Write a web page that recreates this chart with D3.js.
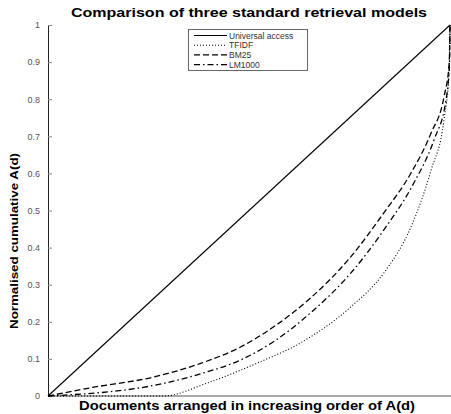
<!DOCTYPE html>
<html>
<head>
<meta charset="utf-8">
<script src="https://cdn.jsdelivr.net/npm/d3@7"></script>
<style>
  html, body { margin: 0; padding: 0; background: #fff; }
  svg { display: block; }
</style>
</head>
<body>
<svg id="chart" width="451" height="414"></svg>
<script>
// Fraction of documents (sorted by A(d)) vs normalised cumulative A(d)
const seriesNames = ["Universal access", "TFIDF", "BM25", "LM1000"];

const universalX = [0, 1];
const universalY = [0, 1];

const tfidfX = [0, 0.287, 0.396, 0.521, 0.628, 0.753, 0.835, 0.903, 0.953, 0.985, 0.998, 1.0];
const tfidfY = [0, 0.0, 0.035, 0.089, 0.143, 0.240, 0.331, 0.456, 0.609, 0.744, 0.879, 1.0];

const bm25X = [0, 0.105, 0.262, 0.38, 0.479, 0.566, 0.653, 0.753, 0.835, 0.903, 0.953, 0.985, 0.998, 1.0];
const bm25Y = [0, 0.022, 0.051, 0.088, 0.132, 0.19, 0.264, 0.375, 0.493, 0.601, 0.709, 0.806, 0.897, 1.0];

const lm1000X = [0, 0.279, 0.38, 0.479, 0.566, 0.653, 0.753, 0.835, 0.910, 0.960, 0.990, 0.999, 1.0];
const lm1000Y = [0, 0.032, 0.06, 0.097, 0.15, 0.224, 0.331, 0.447, 0.574, 0.690, 0.798, 0.9, 1.0];

const yTickValues = [0, 0.1, 0.2, 0.3, 0.4, 0.5, 0.6, 0.7, 0.8, 0.9, 1];
const yTickLabels = ["0", "0.1", "0.2", "0.3", "0.4", "0.5", "0.6", "0.7", "0.8", "0.9", "1"];

const titleText = "Comparison of three standard retrieval models";
const xLabelText = "Documents arranged in increasing order of A(d)";
const yLabelText = "Normalised cumulative A(d)";

const svg = d3.select("#chart");
const plotLeft = 48, plotRight = 450, plotTop = 25, plotBottom = 396;

const x = d3.scaleLinear().domain([0, 1]).range([plotLeft, plotRight]);
const y = d3.scaleLinear().domain([0, 1]).range([plotBottom, plotTop]);

// line styles per series
const styles = {
  "Universal access": { dash: null, width: 1.1 },
  "TFIDF": { dash: "1,2", width: 1.1 },
  "BM25": { dash: "6,3", width: 1.3 },
  "LM1000": { dash: "6,3,1.5,3", width: 1.3 }
};

const series = [
  { name: "Universal access", xs: universalX, ys: universalY },
  { name: "TFIDF", xs: tfidfX, ys: tfidfY },
  { name: "BM25", xs: bm25X, ys: bm25Y },
  { name: "LM1000", xs: lm1000X, ys: lm1000Y }
];

const line = d3.line()
  .x(d => x(d[0]))
  .y(d => y(d[1]))
  .curve(d3.curveMonotoneX);

// axes
const yAxis = d3.axisLeft(y)
  .tickValues(yTickValues)
  .tickFormat((d, i) => yTickLabels[i])
  .tickSizeInner(-4)
  .tickSizeOuter(0)
  .tickPadding(8);

const gy = svg.append("g")
  .attr("transform", `translate(${plotLeft},0)`)
  .call(yAxis);
gy.select(".domain").attr("stroke", "#222").attr("stroke-width", 1);
gy.selectAll(".tick line").attr("stroke", "#888");
gy.selectAll(".tick text")
  .attr("fill", "#555")
  .style("font-family", "Liberation Sans, Arial, sans-serif")
  .style("font-size", "9px");

const xAxis = d3.axisBottom(x).tickValues([]).tickSizeOuter(0);
const gx = svg.append("g")
  .attr("transform", `translate(0,${plotBottom})`)
  .call(xAxis);
gx.select(".domain").attr("stroke", "#555").attr("stroke-width", 1.2)
  .attr("d", `M${plotLeft},0H451`);

// curves
series.forEach(s => {
  const pts = s.xs.map((v, i) => [v, s.ys[i]]);
  svg.append("path")
    .datum(pts)
    .attr("d", line)
    .attr("fill", "none")
    .attr("stroke", "#000")
    .attr("stroke-width", styles[s.name].width)
    .attr("stroke-dasharray", styles[s.name].dash);
});

// title and axis labels
svg.append("text")
  .attr("x", 249).attr("y", 17)
  .attr("text-anchor", "middle")
  .style("font-family", "Liberation Sans, Arial, sans-serif")
  .style("font-weight", "bold")
  .style("font-size", "13px")
  .attr("textLength", 356)
  .attr("lengthAdjust", "spacingAndGlyphs")
  .text(titleText);

svg.append("text")
  .attr("x", 247).attr("y", 410)
  .attr("text-anchor", "middle")
  .style("font-family", "Liberation Sans, Arial, sans-serif")
  .style("font-weight", "bold")
  .style("font-size", "12px")
  .attr("textLength", 336)
  .attr("lengthAdjust", "spacingAndGlyphs")
  .text(xLabelText);

svg.append("text")
  .attr("transform", "translate(18,241) rotate(-90)")
  .attr("text-anchor", "middle")
  .style("font-family", "Liberation Sans Narrow, Arial Narrow, Liberation Sans, sans-serif")
  .style("font-weight", "bold")
  .style("font-size", "11px")
  .attr("textLength", 176)
  .attr("lengthAdjust", "spacingAndGlyphs")
  .text(yLabelText);

// legend
const lg = svg.append("g").attr("transform", "translate(188,29)");
lg.append("rect")
  .attr("x", 0.5).attr("y", 0.5)
  .attr("width", 119).attr("height", 41)
  .attr("fill", "#fff")
  .attr("stroke", "#666")
  .attr("stroke-width", 1);

seriesNames.forEach((name, i) => {
  const cy = 6.5 + i * 9.7;
  lg.append("line")
    .attr("x1", 6).attr("x2", 39)
    .attr("y1", cy).attr("y2", cy)
    .attr("stroke", "#000")
    .attr("stroke-width", styles[name].width)
    .attr("stroke-dasharray", styles[name].dash);
  lg.append("text")
    .attr("x", 41).attr("y", cy + 3)
    .attr("fill", "#333")
    .style("font-family", "Liberation Sans, Arial, sans-serif")
    .style("font-size", "8.5px")
    .text(name);
});
</script>
</body>
</html>
